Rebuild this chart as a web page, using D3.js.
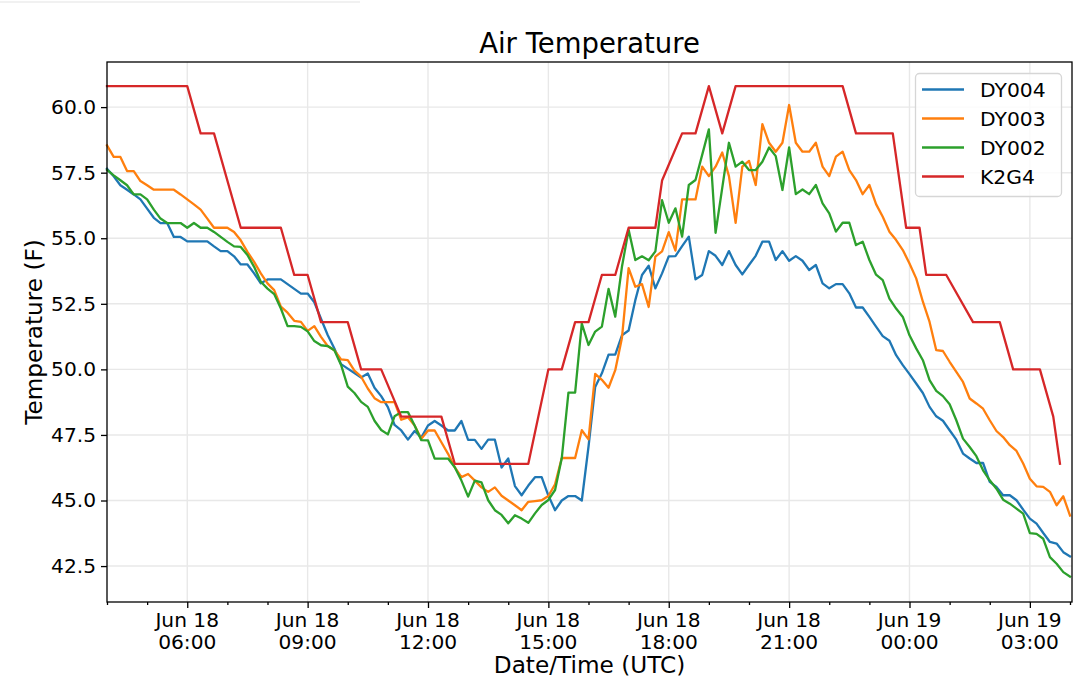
<!DOCTYPE html>
<html>
<head>
<meta charset="utf-8">
<script src="https://cdn.jsdelivr.net/npm/d3@7"></script>
<style>
  body { margin: 0; background: #fff; }
  svg { display: block; font-family: "DejaVu Sans", sans-serif; }
</style>
</head>
<body>
<svg id="chart" width="1080" height="690"></svg>
<script>
// station readings, every 10 minutes from Jun 18 04:00 UTC
var startTime = "2019-06-18 04:00";
var stepMinutes = 10;

var dy004 = [
  57.65, 57.36, 57.02, 56.85, 56.67, 56.48, 56.13, 55.78, 55.58, 55.58,
  55.05, 55.05, 54.88, 54.88, 54.88, 54.88, 54.69, 54.51, 54.51, 54.31,
  54.0, 54.0, 53.66, 53.28, 53.43, 53.43, 53.43, 53.25, 53.07, 52.89,
  52.89, 52.56, 51.93, 51.31, 50.8, 50.2, 50.03, 49.86, 49.69, 49.84,
  49.3, 48.98, 48.56, 47.88, 47.67, 47.32, 47.65, 47.4, 47.86, 48.03,
  47.86, 47.67, 47.67, 48.03, 47.31, 47.31, 46.97, 47.32, 47.32, 46.26,
  46.6, 45.55, 45.2, 45.57, 45.89, 45.89, 45.19, 44.63, 45.0, 45.17,
  45.17, 45.0, 47.05, 49.33, 49.85, 50.56, 50.56, 51.3, 51.48, 52.64,
  53.6, 53.95, 53.09, 53.66, 54.31, 54.32, 54.7, 55.06, 53.43, 53.6,
  54.51, 54.33, 53.98, 54.51, 53.98, 53.62, 53.98, 54.33, 54.87, 54.87,
  54.17, 54.51, 54.14, 54.32, 54.14, 53.79, 53.98, 53.28, 53.09, 53.25,
  53.25, 52.9, 52.36, 52.36, 52.0, 51.63, 51.27, 51.09, 50.54, 50.16,
  49.82, 49.46, 49.1, 48.57, 48.21, 48.04, 47.68, 47.32, 46.79, 46.6,
  46.43, 46.43, 45.71, 45.52, 45.2, 45.2, 45.01, 44.65, 44.31, 44.12,
  43.76, 43.42, 43.36, 43.03, 42.87
];

var dy003 = [
  58.54, 58.1, 58.1, 57.56, 57.56, 57.18, 57.02, 56.85, 56.85, 56.85,
  56.85, 56.67, 56.48, 56.29, 56.09, 55.75, 55.4, 55.4, 55.4, 55.24,
  54.92, 54.48, 54.1, 53.66, 53.28, 53.02, 52.39, 52.16, 51.85, 51.81,
  51.47, 51.65, 51.24, 50.89, 50.73, 50.38, 50.35, 49.95, 49.72, 49.27,
  48.9, 48.75, 48.75, 48.75, 48.08, 48.17, 47.86, 47.35, 47.67, 47.67,
  47.22, 46.78, 46.27, 45.89, 46.01, 45.76, 45.5, 45.33, 45.5, 45.18,
  45.0, 44.82, 44.63, 44.95, 44.98, 45.01, 45.17, 45.62, 46.62, 46.62,
  46.62, 47.68, 47.33, 49.83, 49.6, 49.3, 49.97, 51.2, 53.86, 53.15,
  53.25, 52.38, 54.3, 54.5, 55.23, 54.53, 56.48, 56.48, 56.48, 57.73,
  57.37, 57.73, 58.27, 57.37, 55.59, 57.73, 57.95, 57.03, 59.35, 58.64,
  58.3, 58.64, 60.08, 58.64, 58.3, 58.3, 58.64, 57.73, 57.37, 58.11,
  58.3, 57.6, 57.22, 56.68, 57.03, 56.3, 55.82, 55.25, 54.93, 54.55,
  54.04, 53.47, 52.58, 51.81, 50.73, 50.7, 50.29, 49.9, 49.52, 48.89,
  48.7, 48.5, 48.06, 47.65, 47.42, 47.11, 46.89, 46.41, 45.83, 45.54,
  45.52, 45.33, 44.82, 45.16, 44.43
];

var dy002 = [
  57.61, 57.4, 57.21, 57.02, 56.67, 56.67, 56.48, 56.09, 55.75, 55.58,
  55.58, 55.58, 55.4, 55.58, 55.4, 55.4, 55.24, 55.05, 54.86, 54.69,
  54.67, 54.36, 53.91, 53.34, 53.08, 52.87, 52.32, 51.65, 51.65, 51.62,
  51.45, 51.08, 50.92, 50.89, 50.73, 50.17, 49.34, 49.1, 48.76, 48.57,
  48.04, 47.69, 47.52, 48.21, 48.37, 48.37, 47.86, 47.3, 47.29, 46.6,
  46.6, 46.6, 46.27, 45.76, 45.15, 45.76, 45.69, 45.01, 44.63, 44.45,
  44.13, 44.44, 44.31, 44.15, 44.51, 44.83, 45.02, 45.4, 46.61, 49.11,
  49.11, 51.75, 50.93, 51.44, 51.63, 53.07, 52.01, 53.91, 55.32, 54.17,
  54.31, 54.16, 54.5, 56.45, 55.59, 56.14, 55.06, 57.03, 57.22, 58.18,
  59.15, 55.21, 56.92, 58.64, 57.73, 57.92, 57.6, 57.6, 57.92, 58.46,
  58.13, 56.84, 58.46, 56.68, 56.86, 56.68, 57.03, 56.33, 55.95, 55.25,
  55.59, 55.59, 54.74, 54.87, 54.17, 53.61, 53.4, 52.7, 52.32, 52.0,
  51.3, 50.8, 50.35, 49.59, 49.18, 48.98, 48.67, 48.06, 47.36, 47.04,
  46.69, 46.15, 45.77, 45.45, 45.03, 44.88, 44.69, 44.5, 43.76, 43.73,
  43.54, 42.84, 42.59, 42.27, 42.1
];

// K2G4 reports on its own times
var k2g4Times = [
  "2019-06-18 04:00", "2019-06-18 06:00", "2019-06-18 06:20", "2019-06-18 06:40",
  "2019-06-18 07:20", "2019-06-18 08:20", "2019-06-18 08:40", "2019-06-18 09:00",
  "2019-06-18 09:20", "2019-06-18 10:00", "2019-06-18 10:20", "2019-06-18 10:50",
  "2019-06-18 11:20", "2019-06-18 12:20", "2019-06-18 12:40", "2019-06-18 14:30",
  "2019-06-18 15:00", "2019-06-18 15:20", "2019-06-18 15:40", "2019-06-18 16:00",
  "2019-06-18 16:20", "2019-06-18 16:40", "2019-06-18 17:00", "2019-06-18 17:40",
  "2019-06-18 17:50", "2019-06-18 18:20", "2019-06-18 18:40", "2019-06-18 19:00",
  "2019-06-18 19:20", "2019-06-18 19:40", "2019-06-18 22:20", "2019-06-18 22:40",
  "2019-06-18 23:35", "2019-06-18 23:55", "2019-06-19 00:15", "2019-06-19 00:25",
  "2019-06-19 00:55", "2019-06-19 01:35", "2019-06-19 02:15", "2019-06-19 02:35",
  "2019-06-19 03:15", "2019-06-19 03:35", "2019-06-19 03:45"
];
var k2g4 = [
  60.8, 60.8, 59.0, 59.0,
  55.4, 55.4, 53.6, 53.6,
  51.8, 51.8, 50.0, 50.0,
  48.2, 48.2, 46.4, 46.4,
  50.0, 50.0, 51.8, 51.8,
  53.6, 53.6, 55.4, 55.4,
  57.2, 59.0, 59.0, 60.8,
  59.0, 60.8, 60.8, 59.0,
  59.0, 55.4, 55.4, 53.6,
  53.6, 51.8, 51.8, 50.0,
  50.0, 48.2, 46.4
];

var seriesNames = ["DY004", "DY003", "DY002", "K2G4"];
var seriesColors = ["#1f77b4", "#ff7f0e", "#2ca02c", "#d62728"];
var yTicks = [42.5, 45.0, 47.5, 50.0, 52.5, 55.0, 57.5, 60.0];

var parseTime = d3.utcParse("%Y-%m-%d %H:%M");
var t0 = parseTime(startTime);

const toPoints = (values) => values.map((v, i) => ({t: d3.utcMinute.offset(t0, stepMinutes * i), v: v}));

var series = [
  toPoints(dy004),
  toPoints(dy003),
  toPoints(dy002),
  k2g4.map((v, i) => ({t: parseTime(k2g4Times[i]), v: v}))
];

// plot box (window.top is taken, so keep these in one object)
var box = {left: 107, right: 1072, top: 62, bottom: 602};

var xScale = d3.scaleUtc()
    .domain([t0, d3.utcMinute.offset(t0, 24 * 60 + 3)])
    .range([box.left, box.right]);

var yScale = d3.scaleLinear()
    .domain([41.13, 61.72])
    .range([box.bottom, box.top]);

var svg = d3.select("#chart");

// faint line left over at the top of the picture
svg.append("line")
    .attr("x1", 0).attr("x2", 360).attr("y1", 2).attr("y2", 2)
    .attr("stroke", "#ededed").attr("stroke-width", 1.5);

var majorTicks = xScale.ticks(d3.utcHour.every(3));
var minorTicks = xScale.ticks(d3.utcHour.every(1))
    .filter(d => d.getUTCHours() % 3 !== 0);

// grid
svg.append("g")
    .selectAll("line")
    .data(majorTicks)
    .enter()
    .append("line")
    .attr("x1", d => xScale(d)).attr("x2", d => xScale(d))
    .attr("y1", box.top).attr("y2", box.bottom)
    .attr("stroke", "#e8e8e8").attr("stroke-width", 1.4);

svg.append("g")
    .selectAll("line")
    .data(yTicks)
    .enter()
    .append("line")
    .attr("x1", box.left).attr("x2", box.right)
    .attr("y1", d => yScale(d)).attr("y2", d => yScale(d))
    .attr("stroke", "#e8e8e8").attr("stroke-width", 1.4);

// lines
var line = d3.line()
    .x(d => xScale(d.t))
    .y(d => yScale(d.v));

svg.append("g")
    .selectAll("path")
    .data(series)
    .enter()
    .append("path")
    .attr("d", line)
    .attr("fill", "none")
    .attr("stroke", (d, i) => seriesColors[i])
    .attr("stroke-width", 2.3)
    .attr("stroke-linejoin", "round")
    .attr("stroke-linecap", "square");

// axes
svg.append("g")
    .attr("transform", "translate(0," + box.bottom + ")")
    .call(d3.axisBottom(xScale).tickValues(majorTicks).tickSize(6).tickFormat(""));

svg.append("g")
    .attr("transform", "translate(0," + box.bottom + ")")
    .call(d3.axisBottom(xScale).tickValues(minorTicks).tickSize(3).tickFormat(""));

var fmtDay = d3.utcFormat("%b %d");
var fmtHour = d3.utcFormat("%H:%M");

var xLabels = svg.append("g")
    .selectAll("text")
    .data(majorTicks)
    .enter()
    .append("text")
    .attr("y", 627)
    .attr("text-anchor", "middle")
    .attr("font-size", "20.2px")
    .attr("fill", "#000");
xLabels.append("tspan").attr("x", d => xScale(d)).text(d => fmtDay(d));
xLabels.append("tspan").attr("x", d => xScale(d)).attr("dy", 22).text(d => fmtHour(d));

var yAxis = svg.append("g")
    .attr("transform", "translate(" + box.left + ",0)")
    .call(d3.axisLeft(yScale).tickValues(yTicks).tickSize(6).tickPadding(5).tickFormat(d3.format(".1f")));

yAxis.selectAll("text")
    .attr("font-size", "20.2px")
    .attr("font-family", "DejaVu Sans, sans-serif")
    .attr("fill", "#000");

svg.selectAll(".tick line").attr("stroke", "#000").attr("stroke-width", 1.3);
svg.selectAll(".domain").remove();

// frame
svg.append("rect")
    .attr("x", box.left).attr("y", box.top)
    .attr("width", box.right - box.left).attr("height", box.bottom - box.top)
    .attr("fill", "none")
    .attr("stroke", "#000")
    .attr("stroke-width", 1.3);

// titles
svg.append("text")
    .attr("x", (box.left + box.right) / 2).attr("y", 53)
    .attr("text-anchor", "middle")
    .attr("font-size", "27.5px")
    .text("Air Temperature");

svg.append("text")
    .attr("x", (box.left + box.right) / 2).attr("y", 673)
    .attr("text-anchor", "middle")
    .attr("font-size", "23.2px")
    .text("Date/Time (UTC)");

svg.append("text")
    .attr("transform", "translate(42," + ((box.top + box.bottom) / 2) + ") rotate(-90)")
    .attr("text-anchor", "middle")
    .attr("font-size", "23.2px")
    .text("Temperature (F)");

// legend
var legend = svg.append("g");
legend.append("rect")
    .attr("x", 915.5).attr("y", 73.5)
    .attr("width", 146).attr("height", 123)
    .attr("rx", 4)
    .attr("fill", "#fff").attr("fill-opacity", 0.8)
    .attr("stroke", "#d6d6d6").attr("stroke-width", 1.3);

var rows = legend.selectAll("g.row")
    .data(seriesNames)
    .enter()
    .append("g")
    .attr("class", "row")
    .attr("transform", (d, i) => "translate(0," + (89.5 + i * 29) + ")");

rows.append("line")
    .attr("x1", 922).attr("x2", 964)
    .attr("stroke", (d, i) => seriesColors[i])
    .attr("stroke-width", 2.3);

rows.append("text")
    .attr("x", 980).attr("y", 7)
    .attr("font-size", "20.3px")
    .text(d => d);
</script>
</body>
</html>
